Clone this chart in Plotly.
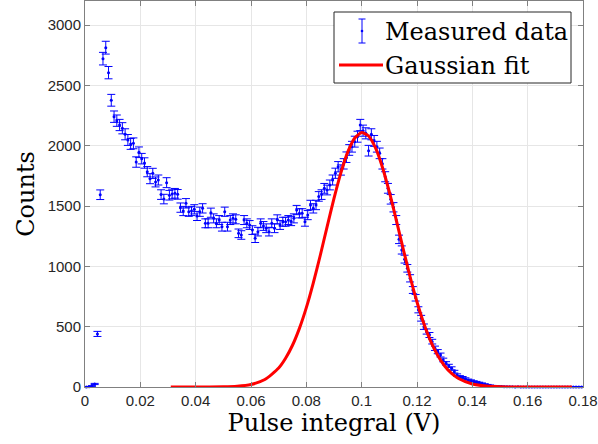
import numpy as np
import plotly.graph_objects as go

# Histogram bin centres (V) and measured counts
bin_width = 0.001
counts = [
    0, 2, 8, 25, 440, 1594, 2722, 2813, 2606, 2377,
    2241, 2208, 2172, 2145, 2095, 2048, 2015, 2020, 1865, 1946,
    1893, 1857, 1785, 1727, 1771, 1700, 1716, 1595, 1558, 1694,
    1590, 1600, 1606, 1597, 1487, 1459, 1523, 1453, 1459, 1473,
    1418, 1453, 1481, 1357, 1357, 1445, 1398, 1357, 1384, 1329,
    1453, 1329, 1384, 1398, 1390, 1274, 1260, 1384, 1357, 1343,
    1301, 1233, 1288, 1357, 1335, 1316, 1288, 1357, 1316, 1390,
    1343, 1370, 1370, 1384, 1375, 1398, 1467, 1440, 1440, 1370,
    1425, 1509, 1481, 1509, 1580, 1595, 1647, 1633, 1675, 1716,
    1772, 1826, 1799, 1850, 1905, 1965, 1992, 2034, 2075, 2172,
    2125, 2103, 1959, 2095, 2040, 1992, 1937, 1850, 1743, 1647,
    1556, 1490, 1384, 1224, 1136, 1060, 984, 901, 804, 740,
    640, 570, 500, 460, 431, 376, 321, 293, 265, 224,
    196, 175, 155, 127, 99, 85, 78, 68, 58, 52,
    45, 40, 34, 28, 22, 17, 12, 9, 7, 5,
    4, 3, 3, 2, 2, 1, 2, 1, 1, 0,
    0, 1, 0, 0, 1, 0, 0, 0, 1, 0,
    0, 0, 0, 1, 0, 0, 0, 0, 0, 0,
]
pulse = [(i + 0.5) * bin_width for i in range(len(counts))]
count_err = np.sqrt(np.array(counts, dtype=float))

# Gaussian fit curve
fit_x = [0.031, 0.040, 0.050, 0.055, 0.060, 0.065, 0.070, 0.0725, 0.075, 0.0775,
         0.080, 0.0825, 0.085, 0.0875, 0.090, 0.0925, 0.095, 0.0975, 0.100, 0.1025,
         0.105, 0.1075, 0.110, 0.1125, 0.115, 0.1175, 0.120, 0.1225, 0.125, 0.1275,
         0.130, 0.1325, 0.135, 0.140, 0.145, 0.150, 0.155, 0.160, 0.176]
fit_y = [0, 0, 1.6, 6.4, 21, 62, 157, 238, 346, 486,
         658, 862, 1088, 1328, 1563, 1777, 1949, 2064, 2109, 2081,
         1982, 1822, 1617, 1385, 1146, 914, 705, 524, 376, 261,
         174, 112, 70, 24.5, 7.4, 2, 0.4, 0, 0]

x_ticks = [0, 0.02, 0.04, 0.06, 0.08, 0.1, 0.12, 0.14, 0.16, 0.18]
x_tick_text = ["0", "0.02", "0.04", "0.06", "0.08", "0.1", "0.12", "0.14", "0.16", "0.18"]
y_ticks = [0, 500, 1000, 1500, 2000, 2500, 3000]

serif = "DejaVu Serif"
sans = "Liberation Sans, Arial, sans-serif"

# plot-area geometry (pixels) used to place the hand-drawn legend symbols
W, H = 598, 444
ML, MR, MT, MB = 85, 15, 1, 57
PW, PH = W - ML - MR, H - MT - MB


def px(xp):
    return (xp - ML) / PW


def py(yp):
    return (H - MB - yp) / PH


fig = go.Figure()
fig.add_trace(go.Scatter(
    x=pulse, y=counts, mode="markers", name="Measured data",
    marker=dict(color="#0000ff", size=3),
    error_y=dict(type="data", array=count_err, visible=True,
                 color="#0000ff", thickness=1, width=4),
    cliponaxis=False, showlegend=False,
))
fig.add_trace(go.Scatter(
    x=fit_x, y=fit_y, mode="lines", name="Gaussian fit",
    line=dict(color="#ff0000", width=3, shape="spline", smoothing=0.6),
    cliponaxis=False, showlegend=False,
))
# legend entries (symbols drawn as shapes below)
fig.add_trace(go.Scatter(x=[None], y=[None], mode="markers", name="Measured data",
                         marker=dict(size=0.1, color="rgba(0,0,0,0)")))
fig.add_trace(go.Scatter(x=[None], y=[None], mode="lines", name="Gaussian fit",
                         line=dict(width=0.1, color="rgba(0,0,0,0)")))

axis_common = dict(
    showline=True, linecolor="#808080", linewidth=1, mirror="ticks",
    ticks="inside", ticklen=5, tickcolor="#808080",
    showgrid=True, gridcolor="#e6e6e6", gridwidth=1, zeroline=False,
    tickfont=dict(family=sans, size=15, color="#262626"),
)

fig.update_xaxes(
    range=[0, 0.18], tickvals=x_ticks, ticktext=x_tick_text,
    title=dict(text="Pulse integral (V)", font=dict(family=serif, size=24, color="black"), standoff=5),
    **axis_common,
)
fig.update_yaxes(
    range=[0, 3200], tickvals=y_ticks,
    title=dict(text="Counts", font=dict(family=serif, size=24, color="black"), standoff=6),
    **axis_common,
)

shapes = [
    # legend box
    dict(type="rect", xref="paper", yref="paper", layer="above",
         x0=px(334), x1=px(571), y0=py(83), y1=py(12),
         fillcolor="white", line=dict(color="#262626", width=1)),
    # error-bar symbol
    dict(type="line", xref="paper", yref="paper", layer="above",
         x0=px(362), x1=px(362), y0=py(43), y1=py(19), line=dict(color="#0000ff", width=1)),
    dict(type="line", xref="paper", yref="paper", layer="above",
         x0=px(358.5), x1=px(365.5), y0=py(19), y1=py(19), line=dict(color="#0000ff", width=1)),
    dict(type="line", xref="paper", yref="paper", layer="above",
         x0=px(358.5), x1=px(365.5), y0=py(43), y1=py(43), line=dict(color="#0000ff", width=1)),
    dict(type="circle", xref="paper", yref="paper", layer="above",
         x0=px(360.7), x1=px(363.3), y0=py(32.3), y1=py(29.7),
         fillcolor="#0000ff", line=dict(color="#0000ff", width=0)),
    # fit line symbol
    dict(type="line", xref="paper", yref="paper", layer="above",
         x0=px(339), x1=px(383), y0=py(65), y1=py(65), line=dict(color="#ff0000", width=3)),
]

fig.update_layout(
    width=W, height=H,
    margin=dict(l=ML, r=MR, t=MT, b=MB),
    plot_bgcolor="white", paper_bgcolor="white",
    showlegend=True,
    shapes=shapes,
    legend=dict(
        x=px(574), y=py(8.5), xanchor="right", yanchor="top",
        bgcolor="rgba(0,0,0,0)", borderwidth=0,
        font=dict(family=serif, size=24, color="black"),
        tracegroupgap=0,
    ),
)

fig.write_html("out.html")
